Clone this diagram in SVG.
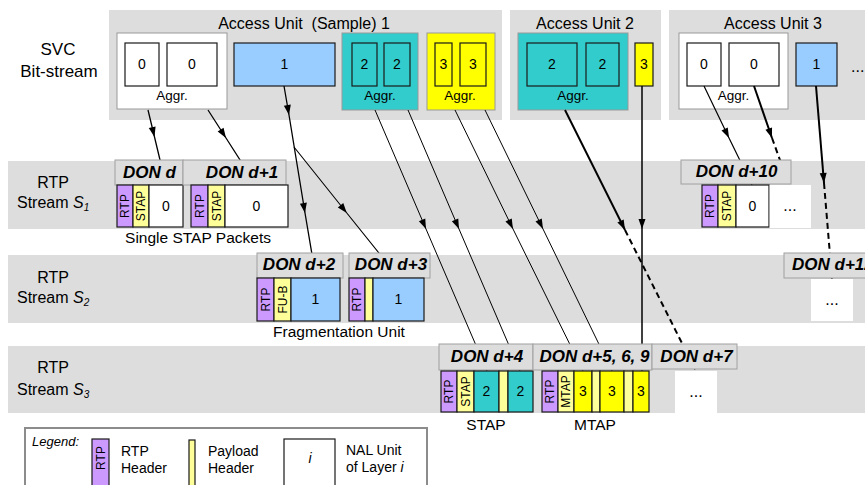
<svg xmlns="http://www.w3.org/2000/svg" width="865" height="485" viewBox="0 0 865 485">
<defs>
<style>
.bg{fill:#DDDDDD}
text{font-family:"Liberation Sans",Arial,Helvetica,sans-serif;fill:#000}
.box{stroke:#1a1a1a;stroke-width:1.2}
.rtp{fill:#CC99FF}.ph{fill:#FFFF99}.cy{fill:#33CCCC}.bl{fill:#99CCFF}.ye{fill:#FFFF00}.wh{fill:#FFFFFF}
.aggr{stroke:#999;stroke-width:1}
.hdr{fill:#DDDDDD;stroke:#A0A0A0;stroke-width:1}
.don{font-weight:bold;font-style:italic;font-size:17px;text-anchor:middle}
.lbl{font-size:16px}
.svc{font-size:17px;text-anchor:middle}
.au{font-size:16px;text-anchor:middle}
.ag{font-size:13.5px;text-anchor:middle}
.dg{font-size:14px;text-anchor:middle}
.rot{font-size:12px;text-anchor:middle}
.ann{font-size:15.5px;text-anchor:middle}
.dots{font-size:16px;text-anchor:middle}
.c{fill:none;stroke:#000}
.dash{stroke-dasharray:6 4}
</style>
<marker id="ah" markerUnits="userSpaceOnUse" markerWidth="12" markerHeight="12" viewBox="0 0 12 12" refX="11" refY="6" orient="auto">
<path d="M1,2.5 L11,6 L1,9.5 z" fill="#000"/>
</marker>
</defs>

<!-- Top: SVC bit-stream -->
<g id="svc-label">
<text class="svc" x="58" y="55">SVC</text>
<text class="svc" x="59" y="77">Bit-stream</text>
</g>

<g id="au1">
<rect class="bg" x="109" y="10" width="393" height="110"/>
<text class="au" x="304" y="29" xml:space="preserve">Access Unit  (Sample) 1</text>
<rect class="wh aggr" x="117" y="33" width="110" height="76"/>
<rect class="wh box" x="125" y="43" width="34" height="43"/>
<text class="dg" x="142" y="69">0</text>
<rect class="wh box" x="167" y="43" width="50" height="43"/>
<text class="dg" x="192" y="69">0</text>
<text class="ag" x="172" y="100">Aggr.</text>
<rect class="bl box" x="234" y="43" width="101" height="43"/>
<text class="dg" x="284.5" y="69">1</text>
<rect class="cy aggr" x="342" y="33" width="76" height="77"/>
<rect class="cy box" x="352" y="43" width="25" height="43"/>
<text class="dg" x="364.5" y="69">2</text>
<rect class="cy box" x="384" y="43" width="26" height="43"/>
<text class="dg" x="397" y="69">2</text>
<text class="ag" x="380" y="100">Aggr.</text>
<rect class="ye aggr" x="427" y="33" width="68" height="77"/>
<rect class="ye box" x="435" y="43" width="17" height="43"/>
<text class="dg" x="443.5" y="69">3</text>
<rect class="ye box" x="460" y="43" width="26" height="43"/>
<text class="dg" x="473" y="69">3</text>
<text class="ag" x="460" y="100">Aggr.</text>
</g>

<g id="au2">
<rect class="bg" x="510" y="10" width="151" height="110"/>
<text class="au" x="585" y="29">Access Unit 2</text>
<rect class="cy aggr" x="518" y="33" width="110" height="77"/>
<rect class="cy box" x="527" y="43" width="50" height="43"/>
<text class="dg" x="552" y="69">2</text>
<rect class="cy box" x="586" y="43" width="33" height="43"/>
<text class="dg" x="602.5" y="69">2</text>
<text class="ag" x="573" y="100">Aggr.</text>
<rect class="ye box" x="635" y="43" width="18" height="43"/>
<text class="dg" x="644" y="69">3</text>
</g>

<g id="au3">
<rect class="bg" x="669" y="10" width="196" height="110"/>
<text class="au" x="773" y="29">Access Unit 3</text>
<rect class="wh aggr" x="679" y="33" width="109" height="76"/>
<rect class="wh box" x="687" y="43" width="34" height="43"/>
<text class="dg" x="704" y="69">0</text>
<rect class="wh box" x="729" y="43" width="50" height="43"/>
<text class="dg" x="754" y="69">0</text>
<text class="ag" x="733.5" y="100">Aggr.</text>
<rect class="bl box" x="796" y="43" width="41" height="43"/>
<text class="dg" x="816.5" y="69">1</text>
<text class="lbl" x="851" y="72">...</text>
</g>

<!-- RTP stream bands -->
<g id="s1-band">
<rect class="bg" x="8" y="161" width="857" height="68"/>
<text class="lbl" x="53" y="188" text-anchor="middle">RTP</text>
<text class="lbl" x="17" y="208">Stream <tspan font-style="italic">S</tspan><tspan font-style="italic" font-size="10" dy="3">1</tspan></text>
</g>
<g id="s2-band">
<rect class="bg" x="8" y="255" width="857" height="68"/>
<text class="lbl" x="53" y="283" text-anchor="middle">RTP</text>
<text class="lbl" x="17" y="303">Stream <tspan font-style="italic">S</tspan><tspan font-style="italic" font-size="10" dy="3">2</tspan></text>
</g>
<g id="s3-band">
<rect class="bg" x="8" y="346" width="857" height="67"/>
<text class="lbl" x="53" y="373" text-anchor="middle">RTP</text>
<text class="lbl" x="17" y="395">Stream <tspan font-style="italic">S</tspan><tspan font-style="italic" font-size="10" dy="3">3</tspan></text>
</g>

<!-- Connectors -->
<g id="connectors">
<path class="c" stroke-width="1.3" marker-mid="url(#ah)" d="M148,110 L154.5,137 L166,185"/>
<path class="c" stroke-width="1.3" marker-mid="url(#ah)" d="M208,110 L226,138 L256,185"/>
<path class="c" stroke-width="1.3" marker-mid="url(#ah)" d="M284,86 L289,115 L305,213 L316,278"/>
<path class="c" stroke-width="1.1" marker-mid="url(#ah)" d="M294,147 L346.8,213 L399,278"/>
<path class="c" stroke-width="1" marker-mid="url(#ah)" d="M375,110 L426,229 L487,371"/>
<path class="c" stroke-width="1" marker-mid="url(#ah)" d="M408,110 L459,229 L520,371"/>
<path class="c" stroke-width="1" marker-mid="url(#ah)" d="M455,110 L513,229 L583,371"/>
<path class="c" stroke-width="1" marker-mid="url(#ah)" d="M485,110 L543,229 L612,371"/>
<path class="c" stroke-width="2" marker-end="url(#ah)" d="M565,110 L625,230"/>
<path class="c dash" stroke-width="2" d="M625,230 L696,371"/>
<path class="c" stroke-width="1.5" marker-mid="url(#ah)" d="M642,86 L642,229 L642,371"/>
<path class="c" stroke-width="1.2" marker-mid="url(#ah)" d="M704,86 L729,138 L752,185"/>
<path class="c" stroke-width="2" marker-end="url(#ah)" d="M754,86 L772,138"/>
<path class="c dash" stroke-width="2" d="M772,138 L789,185"/>
<path class="c" stroke-width="2" marker-end="url(#ah)" d="M816,86 L824,183"/>
<path class="c dash" stroke-width="2" d="M824,183 L832,279"/>
</g>

<!-- Stream S1 packets -->
<g id="pkt-d">
<rect class="hdr" x="115" y="160" width="68" height="25"/>
<text class="don" x="149.5" y="178">DON d</text>
<rect class="rtp box" x="117" y="185" width="16" height="42"/>
<text class="rot" transform="translate(125,206) rotate(-90)" y="4.3">RTP</text>
<rect class="ph box" x="133" y="185" width="16" height="42"/>
<text class="rot" transform="translate(141,206) rotate(-90)" y="4.3">STAP</text>
<rect class="wh box" x="149" y="185" width="34" height="42"/>
<text class="dg" x="166" y="211">0</text>
</g>
<g id="pkt-d1">
<rect class="hdr" x="183" y="160" width="103" height="25"/>
<text class="don" x="242" y="178">DON d+1</text>
<rect class="rtp box" x="191" y="185" width="17" height="42"/>
<text class="rot" transform="translate(199.5,206) rotate(-90)" y="4.3">RTP</text>
<rect class="ph box" x="208" y="185" width="17" height="42"/>
<text class="rot" transform="translate(216.5,206) rotate(-90)" y="4.3">STAP</text>
<rect class="wh box" x="225" y="185" width="63" height="42"/>
<text class="dg" x="256.5" y="211">0</text>
</g>
<text class="ann" x="198" y="243">Single STAP Packets</text>

<g id="pkt-d10">
<rect class="hdr" x="681" y="160" width="110" height="24"/>
<text class="don" x="736.5" y="177">DON d+10</text>
<rect class="rtp box" x="702" y="185" width="16" height="42"/>
<text class="rot" transform="translate(710,206) rotate(-90)" y="4.3">RTP</text>
<rect class="ph box" x="718" y="185" width="18" height="42"/>
<text class="rot" transform="translate(727,206) rotate(-90)" y="4.3">STAP</text>
<rect class="wh box" x="736" y="185" width="33" height="42"/>
<text class="dg" x="752.5" y="211">0</text>
<rect class="wh" x="769.6" y="185" width="41.4" height="43"/>
<text class="dots" x="790" y="211">...</text>
</g>

<!-- Stream S2 packets -->
<g id="pkt-d2">
<rect class="hdr" x="257" y="253" width="86" height="25"/>
<text class="don" x="299" y="270">DON d+2</text>
<rect class="rtp box" x="257" y="278" width="17" height="43"/>
<text class="rot" transform="translate(265.5,299.5) rotate(-90)" y="4.3">RTP</text>
<rect class="ph box" x="274" y="278" width="17" height="43"/>
<text class="rot" transform="translate(282.5,299.5) rotate(-90)" y="4" font-size="11.5">FU-B</text>
<rect class="bl box" x="291" y="278" width="49" height="43"/>
<text class="dg" x="315.5" y="304">1</text>
</g>
<g id="pkt-d3">
<rect class="hdr" x="349" y="253" width="81" height="25"/>
<text class="don" x="391" y="270">DON d+3</text>
<rect class="rtp box" x="349" y="278" width="16" height="43"/>
<text class="rot" transform="translate(357,299.5) rotate(-90)" y="4.3">RTP</text>
<rect class="ph box" x="365" y="278" width="8" height="43"/>
<rect class="bl box" x="373" y="278" width="51" height="43"/>
<text class="dg" x="398.5" y="304">1</text>
</g>
<text class="ann" x="339" y="337">Fragmentation Unit</text>

<g id="pkt-d12">
<rect class="hdr" x="784" y="253" width="85" height="25"/>
<text class="don" x="792" y="270" text-anchor="start" style="text-anchor:start">DON d+12</text>
<rect class="wh" x="811" y="279" width="42" height="42"/>
<text class="dots" x="832" y="305">...</text>
</g>

<!-- Stream S3 packets -->
<g id="pkt-d4">
<rect class="hdr" x="439" y="344" width="94" height="26"/>
<text class="don" x="487" y="362">DON d+4</text>
<rect class="rtp box" x="441" y="371" width="16" height="41"/>
<text class="rot" transform="translate(449,391.5) rotate(-90)" y="4.3">RTP</text>
<rect class="ph box" x="457" y="371" width="17" height="41"/>
<text class="rot" transform="translate(465.5,391.5) rotate(-90)" y="4.3">STAP</text>
<rect class="cy box" x="474" y="371" width="25" height="41"/>
<text class="dg" x="486.5" y="396">2</text>
<rect class="ph box" x="499" y="371" width="9" height="41"/>
<rect class="cy box" x="508" y="371" width="25" height="41"/>
<text class="dg" x="520.5" y="396">2</text>
</g>
<text class="ann" x="486" y="430">STAP</text>

<g id="pkt-d5">
<rect class="hdr" x="533" y="344" width="119" height="26"/>
<text class="don" x="594.5" y="362">DON d+5, 6, 9</text>
<rect class="rtp box" x="542" y="371" width="16" height="41"/>
<text class="rot" transform="translate(550,391.5) rotate(-90)" y="4.3">RTP</text>
<rect class="ph box" x="558" y="371" width="16" height="41"/>
<text class="rot" transform="translate(566,391.5) rotate(-90)" y="3.6" font-size="10">MTAP</text>
<rect class="ye box" x="574" y="371" width="18" height="41"/>
<text class="dg" x="583" y="396">3</text>
<rect class="ph box" x="592" y="371" width="8" height="41"/>
<rect class="ye box" x="600" y="371" width="24" height="41"/>
<text class="dg" x="612" y="396">3</text>
<rect class="ph box" x="624" y="371" width="9" height="41"/>
<rect class="ye box" x="633" y="371" width="16" height="41"/>
<text class="dg" x="641" y="396">3</text>
</g>
<text class="ann" x="595" y="430">MTAP</text>

<g id="pkt-d7">
<rect class="hdr" x="652" y="344" width="85" height="25"/>
<text class="don" x="696.5" y="362">DON d+7</text>
<rect class="wh" x="675" y="371" width="42" height="42"/>
<text class="dots" x="696" y="397">...</text>
</g>

<!-- Legend -->
<g id="legend">
<rect x="25" y="428" width="402" height="70" fill="#fff" stroke="#8C8C8C" stroke-width="2"/>
<text x="32" y="446" font-size="13" font-style="italic">Legend:</text>
<rect class="rtp box" x="92" y="439" width="17" height="50"/>
<text class="rot" transform="translate(100.5,458) rotate(-90)" y="4.3">RTP</text>
<text x="121" y="456" font-size="14">RTP</text>
<text x="121" y="473" font-size="14">Header</text>
<rect class="ph box" x="189" y="440" width="6" height="49"/>
<text x="208" y="456" font-size="14">Payload</text>
<text x="208" y="473" font-size="14">Header</text>
<rect class="wh box" x="284" y="439" width="51" height="50"/>
<text x="310" y="463" font-size="14" font-style="italic" text-anchor="middle">i</text>
<text x="346" y="455" font-size="14">NAL Unit</text>
<text x="346" y="472" font-size="14">of Layer <tspan font-style="italic">i</tspan></text>
</g>
</svg>
